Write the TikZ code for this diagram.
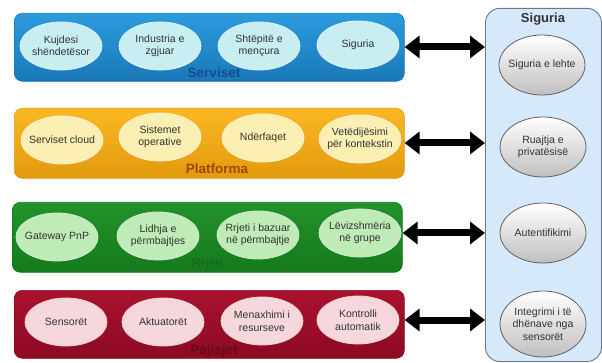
\documentclass[tikz,border=0pt]{standalone}
\usepackage{fontspec}
\setmainfont{Liberation Sans}
\usetikzlibrary{shapes.geometric,arrows.meta}

\definecolor{servblue}{HTML}{2B9BDD}
\definecolor{servblueD}{HTML}{1A78B8}
\definecolor{servell}{HTML}{C9EEF2}
\definecolor{servtxt}{HTML}{144C8A}
\definecolor{platgold}{HTML}{F8B823}
\definecolor{platgoldD}{HTML}{E39A0E}
\definecolor{platell}{HTML}{FBEFB3}
\definecolor{plattxt}{HTML}{9A4A00}
\definecolor{netgreen}{HTML}{22922A}
\definecolor{netgreenD}{HTML}{157A1C}
\definecolor{netell}{HTML}{BFEBB6}
\definecolor{nettxt}{HTML}{186420}
\definecolor{devred}{HTML}{AA122E}
\definecolor{devredD}{HTML}{8C0A22}
\definecolor{devell}{HTML}{F6D7DB}
\definecolor{devtxt}{HTML}{6A0819}
\definecolor{secfill}{HTML}{D6E9FB}
\definecolor{secline}{HTML}{67778A}
\definecolor{inktxt}{HTML}{333333}

\begin{document}
\begin{tikzpicture}[x=1pt,y=-1pt,
  band/.style={rounded corners=8pt, line width=0.6pt, minimum height=68pt,
    minimum width=390pt, anchor=north west, inner sep=0pt},
  item/.style={ellipse, inner xsep=-14pt, inner ysep=-4pt, minimum width=82pt,
    minimum height=48pt, align=center, text=inktxt, line width=0.8pt,
    font=\fontsize{10.5}{12.5}\selectfont},
  secitem/.style={item, minimum width=86pt, minimum height=60pt,
    draw=gray!75!black, top color=white, bottom color=gray!50},
  bandlabel/.style={font=\bfseries\fontsize{13.5}{15}\selectfont},
  link/.style={line width=7pt, {Triangle[width=22pt,length=15pt]}-{Triangle[width=22pt,length=15pt]}}
]
\useasboundingbox (0,0) rectangle (602,363);

% security panel on the right
\node[draw=secline, fill=secfill, rounded corners=14pt, line width=0.9pt,
  minimum width=116pt, minimum height=353pt, anchor=north west, inner sep=0pt]
  (sec) at (485,8) {};
\node[font=\bfseries\fontsize{13}{15}\selectfont, text=inktxt] (sectitle) at (543,19) {Siguria};
\node[secitem] (s1) at (542,65) {Siguria e lehte};
\node[secitem] (s2) at (543,147) {Ruajtja e\\privatësisë};
\node[secitem] (s3) at (543,233) {Autentifikimi};
\node[secitem, minimum height=66pt] (s4) at (543,324) {Integrimi i të\\dhënave nga\\sensorët};

% layer: services
\node[band, draw=servblueD, top color=servblue, bottom color=servblueD] (serv) at (14,13) {};
\node[item, fill=servell, draw=white!85!servblue] (a1) at (61,46) {Kujdesi\\shëndetësor};
\node[item, fill=servell, draw=white!85!servblue] (a2) at (160,46) {Industria e\\zgjuar};
\node[item, fill=servell, draw=white!85!servblue] (a3) at (259,46) {Shtëpitë e\\mençura};
\node[item, fill=servell, draw=white!85!servblue] (a4) at (358,45) {Siguria};
\node[bandlabel, text=servtxt] (servlbl) at (214,73) {Serviset};

% layer: platform
\node[band, minimum height=70pt, draw=platgoldD, top color=platgold, bottom color=platgoldD] (plat) at (14,108) {};
\node[item, fill=platell, draw=white!80!platgold] (b1) at (62,140) {Serviset cloud};
\node[item, fill=platell, draw=white!80!platgold] (b2) at (160,137) {Sistemet\\operative};
\node[item, fill=platell, draw=white!80!platgold] (b3) at (263,138) {Ndërfaqet};
\node[item, fill=platell, draw=white!80!platgold] (b4) at (360,139) {Vetëdijësimi\\për kontekstin};
\node[bandlabel, text=plattxt] (platlbl) at (217,169) {Platforma};

% layer: network
\node[band, minimum height=70pt, draw=netgreenD, top color=netgreen, bottom color=netgreenD] (net) at (12,202) {};
\node[item, fill=netell, draw=white!80!netgreen] (c1) at (57,237) {Gateway PnP};
\node[item, fill=netell, draw=white!80!netgreen] (c2) at (158,236) {Lidhja e\\përmbajtjes};
\node[item, fill=netell, draw=white!80!netgreen] (c3) at (258,235) {Rrjeti i bazuar\\në përmbajtje};
\node[item, fill=netell, draw=white!80!netgreen] (c4) at (360,233) {Lëvizshmëria\\në grupe};
\node[bandlabel, font=\fontsize{13}{15}\selectfont, text=nettxt] (netlbl) at (207,264) {Rrjeti};

% layer: devices
\node[band, draw=devredD, top color=devred, bottom color=devredD] (dev) at (14,290) {};
\node[item, fill=devell, draw=white!80!devred] (d1) at (66,322) {Sensorët};
\node[item, fill=devell, draw=white!80!devred] (d2) at (163,322) {Aktuatorët};
\node[item, fill=devell, draw=white!80!devred] (d3) at (262,321) {Menaxhimi i\\resurseve};
\node[item, fill=devell, draw=white!80!devred] (d4) at (358,320) {Kontrolli\\automatik};
\node[bandlabel, text=devtxt] (devlbl) at (214,351) {Pajisjet};

% links between each layer and the security panel
\draw[link] (serv.east |- a4.east) ++(0,2) coordinate (l1) -- (l1 -| sec.west);
\draw[link] (plat.east |- 0,143) coordinate (l2) -- (l2 -| sec.west);
\draw[link] (net.east |- 0,233) coordinate (l3) -- (l3 -| sec.west);
\draw[link] (dev.east |- 0,320) coordinate (l4) -- (l4 -| sec.west);
\end{tikzpicture}
\end{document}
